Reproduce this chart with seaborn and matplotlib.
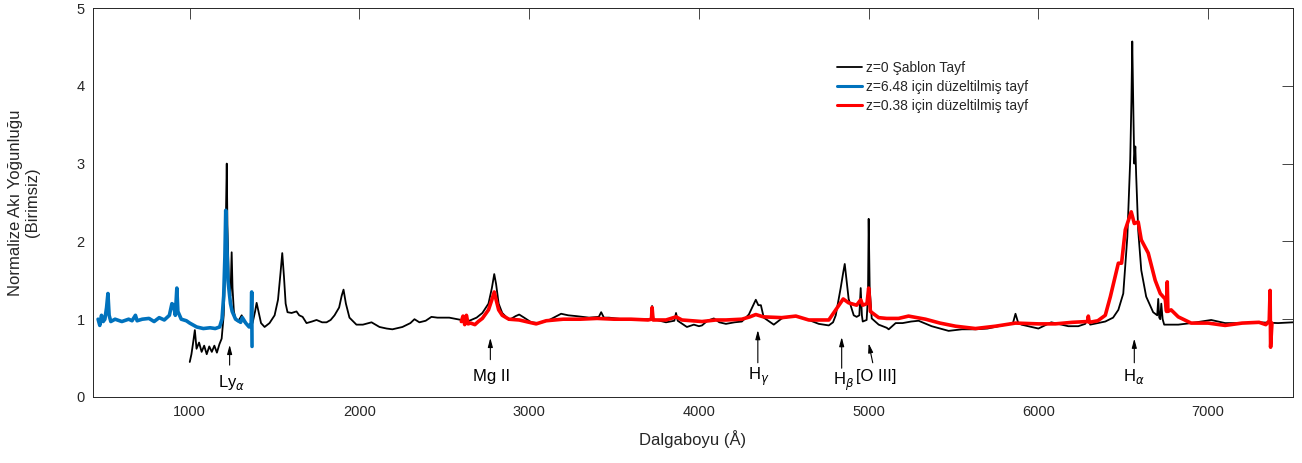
import numpy as np
import pandas as pd
import matplotlib
matplotlib.use("Agg")
import matplotlib.pyplot as plt
import seaborn as sns

# ---- data ----
template_wl = [1000, 1010, 1020, 1030, 1040, 1055, 1070, 1085, 1100, 1115, 1130, 1145, 1160, 1175, 1188,
               1200, 1208, 1214, 1218, 1222, 1230, 1240, 1247, 1252, 1260, 1270, 1285, 1306, 1320, 1340,
               1370, 1385, 1394, 1405, 1420, 1441, 1470, 1500, 1520, 1535, 1545, 1555, 1565, 1576, 1600,
               1629, 1645, 1665, 1688, 1720, 1747, 1780, 1806, 1830, 1853, 1880, 1895, 1906, 1920, 1941,
               1982, 2020, 2071, 2118, 2160, 2194, 2253, 2300, 2324, 2353, 2390, 2424, 2459, 2529, 2600,
               2647, 2690, 2724, 2760, 2780, 2794, 2805, 2820, 2841, 2882, 2920, 2941, 2970, 3012, 3060,
               3118, 3188, 3230, 3276, 3353, 3410, 3424, 3440, 3470, 3588, 3700, 3718, 3724, 3732, 3806,
               3855, 3865, 3875, 3929, 3970, 4000, 4018, 4050, 4088, 4120, 4159, 4210, 4253, 4294, 4320,
               4335, 4350, 4365, 4382, 4441, 4488, 4530, 4571, 4647, 4706, 4765, 4790, 4806, 4835, 4850,
               4859, 4870, 4882, 4912, 4929, 4945, 4953, 4960, 4965, 4988, 4996, 5000, 5006, 5018, 5059,
               5106, 5118, 5159, 5200, 5250, 5294, 5371, 5471, 5550, 5629, 5700, 5765, 5850, 5865, 5880,
               5900, 6000, 6076, 6176, 6235, 6276, 6294, 6305, 6394, 6440, 6471, 6500, 6524, 6541, 6548,
               6553, 6560, 6565, 6571, 6576, 6588, 6606, 6635, 6676, 6700, 6706, 6712, 6718, 6724, 6732,
               6741, 6824, 6900, 7018, 7100, 7218, 7300, 7412, 7500]
template_flux = [0.45, 0.55, 0.70, 0.86, 0.62, 0.70, 0.58, 0.66, 0.55, 0.65, 0.58, 0.66, 0.57, 0.68, 0.75,
                 1.05, 1.60, 2.40, 3.00, 2.20, 1.50, 1.30, 1.86, 1.40, 1.10, 1.00, 0.97, 1.05, 0.97, 0.92,
                 0.95, 1.10, 1.21, 1.10, 0.95, 0.90, 0.95, 1.05, 1.25, 1.60, 1.85, 1.55, 1.20, 1.09, 1.08,
                 1.10, 1.05, 1.03, 0.95, 0.97, 0.99, 0.96, 0.96, 0.99, 1.05, 1.15, 1.30, 1.38, 1.20, 1.02,
                 0.93, 0.93, 0.96, 0.90, 0.88, 0.87, 0.90, 0.95, 1.00, 0.96, 0.98, 1.03, 1.02, 1.02, 0.99,
                 0.98, 1.02, 1.08, 1.20, 1.40, 1.58, 1.45, 1.20, 1.08, 0.99, 1.04, 1.06, 1.02, 0.96, 0.95,
                 0.99, 1.07, 1.05, 1.04, 1.02, 1.03, 1.09, 1.02, 1.02, 0.99, 1.00, 1.00, 1.17, 1.00, 0.96,
                 0.98, 1.08, 0.98, 0.90, 0.93, 0.91, 0.92, 0.98, 1.01, 0.96, 0.94, 0.96, 0.97, 1.06, 1.18,
                 1.25, 1.18, 1.18, 1.02, 0.93, 1.01, 1.03, 1.04, 0.99, 0.94, 0.92, 0.96, 1.05, 1.40, 1.60,
                 1.71, 1.50, 1.26, 1.05, 1.03, 1.05, 1.40, 1.05, 0.97, 0.99, 1.30, 2.29, 1.40, 1.01, 0.93,
                 0.89, 0.87, 0.95, 0.95, 0.97, 0.98, 0.91, 0.85, 0.87, 0.87, 0.88, 0.91, 0.95, 1.07, 0.96,
                 0.93, 0.88, 0.96, 0.91, 0.91, 0.94, 1.03, 0.93, 0.97, 1.02, 1.12, 1.33, 2.06, 3.05, 3.80,
                 4.57, 3.60, 3.00, 3.22, 2.85, 2.14, 1.63, 1.29, 1.09, 1.05, 1.26, 1.02, 1.00, 1.20, 1.00,
                 0.93, 0.93, 0.95, 0.99, 0.95, 0.95, 0.96, 0.95, 0.96]

z648_wl = [460, 470, 480, 490, 500, 510, 518, 525, 535, 560, 600, 640, 660, 680, 690, 720, 760, 790, 820,
           850, 880, 895, 905, 915, 924, 930, 950, 980, 1000, 1041, 1080, 1120, 1150, 1176, 1190, 1200,
           1207, 1212, 1218, 1225, 1240, 1250, 1270, 1300, 1310, 1330, 1350, 1362, 1365, 1367]
z648_flux = [1.00, 0.92, 1.05, 0.97, 1.00, 1.15, 1.33, 1.05, 0.97, 1.00, 0.97, 1.00, 0.98, 1.05, 0.98,
             1.00, 1.01, 0.97, 1.02, 0.99, 1.05, 1.20, 1.18, 1.05, 1.40, 1.10, 1.00, 0.98, 0.95, 0.90,
             0.88, 0.89, 0.88, 0.90, 1.00, 1.30, 1.80, 2.40, 2.00, 1.50, 1.20, 1.10, 1.00, 0.96, 1.02,
             0.95, 0.90, 0.95, 1.35, 0.65]

z038_wl = [2600, 2610, 2620, 2630, 2640, 2655, 2680, 2700, 2724, 2760, 2780, 2794, 2805, 2820, 2841, 2880,
           2941, 3000, 3041, 3100, 3200, 3300, 3400, 3500, 3600, 3700, 3720, 3724, 3730, 3806, 3865, 3900,
           4018, 4100, 4159, 4253, 4300, 4335, 4380, 4488, 4571, 4647, 4765, 4806, 4850, 4882, 4929, 4953,
           4965, 4990, 5000, 5010, 5059, 5106, 5176, 5235, 5335, 5420, 5512, 5629, 5747, 5865, 6000, 6100,
           6200, 6290, 6294, 6300, 6350, 6394, 6424, 6471, 6490, 6512, 6547, 6565, 6588, 6606, 6647, 6688,
           6718, 6747, 6755, 6759, 6763, 6782, 6824, 6900, 7000, 7100, 7200, 7300, 7340, 7360, 7365, 7368,
           7376]
z038_flux = [0.97, 1.04, 0.93, 1.05, 0.94, 0.95, 0.93, 0.97, 1.01, 1.12, 1.25, 1.35, 1.25, 1.12, 1.05, 1.00,
             0.99, 0.96, 0.94, 0.98, 1.00, 1.00, 1.01, 1.00, 1.00, 0.99, 1.00, 1.15, 0.99, 0.99, 1.03, 0.99,
             0.97, 0.99, 0.99, 1.00, 1.03, 1.06, 1.03, 1.02, 1.04, 0.99, 0.99, 1.12, 1.26, 1.21, 1.18, 1.25,
             1.18, 1.20, 1.40, 1.10, 1.02, 1.01, 1.01, 1.04, 1.00, 0.95, 0.91, 0.88, 0.91, 0.95, 0.94, 0.94,
             0.96, 0.97, 1.04, 0.96, 0.98, 1.05, 1.29, 1.72, 1.72, 2.15, 2.38, 2.23, 2.25, 2.02, 1.85, 1.50,
             1.33, 1.26, 1.10, 1.48, 1.10, 1.12, 1.03, 0.95, 0.95, 0.92, 0.95, 0.96, 0.93, 0.98, 1.37, 0.64,
             0.95]

series_labels = ["z=0 Şablon Tayf", "z=6.48 için düzeltilmiş tayf", "z=0.38 için düzeltilmiş tayf"]

line_names = [r"Ly$_{\alpha}$", "Mg II", r"H$_{\gamma}$", r"H$_{\beta}$", "[O III]", r"H$_{\alpha}$"]
line_arrow_x = [1235, 2771, 4347, 4841, 5000, 6565]
line_text_x = [1247, 2776, 4355, 4850, 5045, 6560]

# ---- style ----
sns.set_theme(style="white")
plt.rcParams['font.family'] = ['Liberation Sans', 'DejaVu Sans']
plt.rcParams['mathtext.fontset'] = 'dejavusans'
dark = '#262626'

fig = plt.figure(figsize=(13.02, 4.63), dpi=100)
ax = fig.add_axes([93/1302, 1-397/463, 1200/1302, 389/463])

df_t = pd.DataFrame({"wl": template_wl, "flux": template_flux})
df_b = pd.DataFrame({"wl": z648_wl, "flux": z648_flux})
df_r = pd.DataFrame({"wl": z038_wl, "flux": z038_flux})

sns.lineplot(data=df_t, x="wl", y="flux", ax=ax, color="black", lw=1.3,
             sort=False, estimator=None, label=series_labels[0])
sns.lineplot(data=df_b, x="wl", y="flux", ax=ax, color="#0072BD", lw=2.6,
             sort=False, estimator=None, label=series_labels[1])
sns.lineplot(data=df_r, x="wl", y="flux", ax=ax, color="#FF0000", lw=2.6,
             sort=False, estimator=None, label=series_labels[2])

# ---- annotations ----
arrow_tip_y = [0.67, 0.76, 0.86, 0.77, 0.69, 0.75]
arrow_tail_y = [0.41, 0.48, 0.44, 0.37, 0.44, 0.44]
arrow_tail_dx = [0, 0, 0, 0, 24, 0]
text_y = [0.18, 0.26, 0.26, 0.19, 0.26, 0.26]
for name, ax_x, tx, tip, tail, dx, ty in zip(line_names, line_arrow_x, line_text_x,
                                             arrow_tip_y, arrow_tail_y, arrow_tail_dx, text_y):
    ax.annotate("", xy=(ax_x, tip), xytext=(ax_x + dx, tail),
                arrowprops=dict(arrowstyle="-|>,head_length=0.45,head_width=0.12",
                                color="black", lw=0.8, shrinkA=0, shrinkB=0))
    ax.text(tx, ty, name, ha="center", va="center", fontsize=12, color="black")

ax.set_xlim(430, 7500)
ax.set_ylim(0, 5)
ax.set_xticks([1000, 2000, 3000, 4000, 5000, 6000, 7000])
ax.set_yticks([0, 1, 2, 3, 4, 5])
ax.tick_params(axis="both", which="both", direction="in", length=8, width=0.6,
               colors=dark, labelsize=10.5, top=True, right=True, pad=6)
for s in ax.spines.values():
    s.set_visible(True)
    s.set_color(dark)
    s.set_linewidth(0.7)

ax.set_xlabel("Dalgaboyu (Å)", fontsize=12, color=dark, labelpad=8)
ax.set_ylabel("Normalize Akı Yoğunluğu\n(Birimsiz)", fontsize=12, color=dark, labelpad=26)

leg = ax.legend(loc="upper left", bbox_to_anchor=((837-93)/1200, (397-61)/389),
                frameon=False, fontsize=10, handlelength=1.8, handletextpad=0.3,
                labelspacing=0.35, borderaxespad=0, borderpad=0)
for h in leg.get_lines():
    h.set_linewidth(2.2)
leg.get_lines()[0].set_linewidth(1.3)

fig.savefig("out.png", dpi=100)
